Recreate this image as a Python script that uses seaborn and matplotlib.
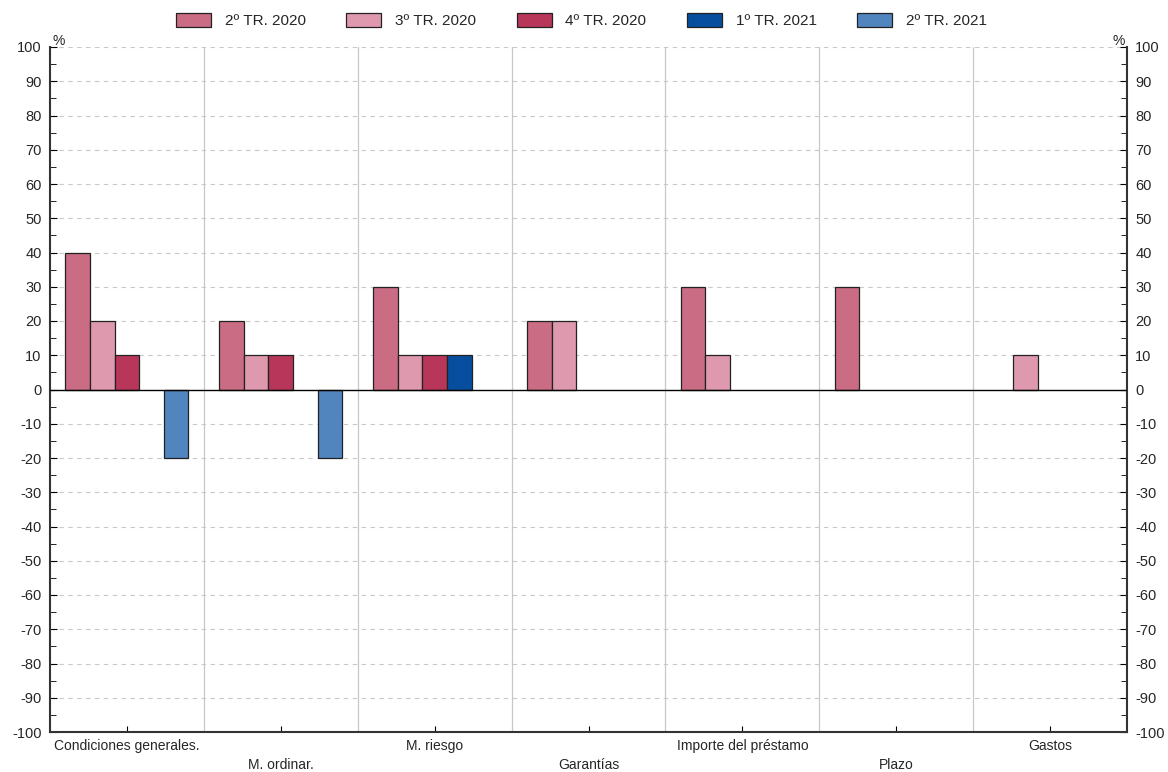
import numpy as np
import pandas as pd
import matplotlib.pyplot as plt
import seaborn as sns

categories = ['Condiciones generales.', 'M. ordinar.', 'M. riesgo', 'Garantías',
              'Importe del préstamo', 'Plazo', 'Gastos']
periods = ['2º TR. 2020', '3º TR. 2020', '4º TR. 2020', '1º TR. 2021', '2º TR. 2021']

tr2_2020 = [40, 20, 30, 20, 30, 30, 0]
tr3_2020 = [20, 10, 10, 20, 10, 0, 10]
tr4_2020 = [10, 10, 10, 0, 0, 0, 0]
tr1_2021 = [0, 0, 10, 0, 0, 0, 0]
tr2_2021 = [-20, -20, 0, 0, 0, 0, 0]

colors = ['#C96C84', '#DE99AE', '#B9365B', '#074F9E', '#5185BE']

rows = []
for period, vals in zip(periods, [tr2_2020, tr3_2020, tr4_2020, tr1_2021, tr2_2021]):
    for cat, v in zip(categories, vals):
        if v != 0:
            rows.append({'categoria': cat, 'periodo': period, 'valor': v})
df = pd.DataFrame(rows)

sns.set_style('white')
plt.rcParams['font.family'] = ['Liberation Sans', 'DejaVu Sans']
plt.rcParams['axes.unicode_minus'] = False

fig = plt.figure(figsize=(11.68, 7.72), dpi=100)
ax = fig.add_axes([50 / 1168, 40 / 772, 1077 / 1168, 685 / 772])

# rejilla
for y in range(-100, 101, 10):
    if y != 0:
        ax.axhline(y, color='#C8C8C8', lw=0.8, ls=(0, (4, 4)), zorder=0)
for x in np.arange(0.5, len(categories) - 1, 1):
    ax.axvline(x, color='#C8C8C8', lw=0.9, zorder=0)

sns.barplot(data=df, x='categoria', y='valor', hue='periodo',
            order=categories, hue_order=periods, palette=colors, saturation=1,
            width=0.8, dodge=True, edgecolor='#222222', linewidth=0.9,
            errorbar=None, ax=ax, zorder=2)

ax.axhline(0, color='black', lw=1.0, zorder=3)

ax.set_xlim(-0.5, len(categories) - 0.5)
ax.set_ylim(-100, 100)
ax.set_yticks(range(-100, 101, 10))
ax.set_yticks(range(-95, 100, 10), minor=True)
ax.set_xticks(range(len(categories)))
ax.set_xticklabels([c if i % 2 == 0 else '\n' + c for i, c in enumerate(categories)])
for lbl in ax.get_xticklabels():
    lbl.set_linespacing(1.5)
ax.set_xlabel('')
ax.set_ylabel('')

ax.tick_params(axis='y', which='both', direction='in', left=True, right=True,
               labelleft=True, labelright=True, labelsize=10.5, color='black', pad=6)
ax.tick_params(axis='y', which='major', length=5)
ax.tick_params(axis='y', which='minor', length=4)
ax.tick_params(axis='x', direction='in', bottom=True, length=4, labelsize=10,
               pad=5, color='black')

for side in ['left', 'right', 'bottom']:
    ax.spines[side].set_color('#333333')
    ax.spines[side].set_linewidth(1.5)
ax.spines['top'].set_visible(False)

ax.text(0.002, 0.998, '%', transform=ax.transAxes, ha='left', va='bottom', fontsize=10)
ax.text(0.998, 0.998, '%', transform=ax.transAxes, ha='right', va='bottom', fontsize=10)

ax.legend(loc='upper center', bbox_to_anchor=(0.4935, 1.07), ncol=5, frameon=False,
          fontsize=11, handlelength=2.3, handleheight=1.1, columnspacing=2.65,
          handletextpad=0.9)

fig.savefig('out.png', dpi=100)
